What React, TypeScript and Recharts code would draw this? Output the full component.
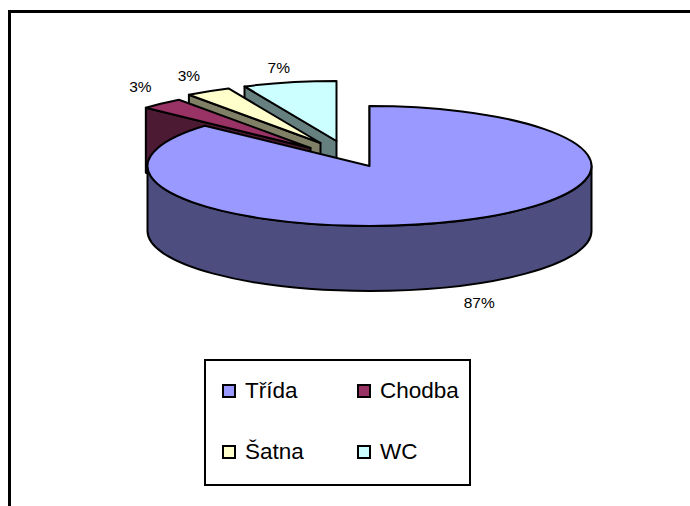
import React from "react"
import { Cell, Legend, Pie, PieChart } from "recharts"

const categories = ["Třída", "Chodba", "Šatna", "WC"]
const shares = [86.7, 3.2, 3.3, 6.8]

const topColors = ["#9999FF", "#993366", "#FFFFCC", "#CCFFFF"]
const sideColors = ["#4D4D80", "#4D1A33", "#808066", "#668080"]
// how far each slice is pulled out of the pie, in px
const pullX = [0, -59, -49, -33]
const pullY = [0, -18, -23, -25]
// small nudges so the percent labels land where they do in the original
const labelNudgeX = [5, 3, -1, -3]
const labelNudgeY = [1, -1, 0, 1]

const SQUASH = 0.27
const DEPTH = 65
const RAD = Math.PI / 180
const OUTLINE = "#000"

// drawn back to front, so the big slice ends up on top of the small ones
const tableData = categories
    .map((name, i) => ({ name, value: shares[i] }))
    .reverse()

const rim = (cx: number, cy: number, rx: number, deg: number) => ({
    x: cx + rx * Math.cos(deg * RAD),
    y: cy - rx * SQUASH * Math.sin(deg * RAD),
})

function Slice3D(props: any) {
    const i = categories.indexOf(props.name)
    const cx = props.cx + pullX[i]
    const cy = props.cy + pullY[i]
    const rx = props.outerRadius
    const ry = rx * SQUASH
    const { startAngle, endAngle } = props

    const a = rim(cx, cy, rx, startAngle)
    const b = rim(cx, cy, rx, endAngle)
    const large = endAngle - startAngle > 180 ? 1 : 0

    // cut face on the side that looks at the viewer
    const face = `M${b.x},${b.y} L${cx},${cy} L${cx},${cy + DEPTH} L${b.x},${b.y + DEPTH} Z`

    // outer wall only exists along the front half of the rim
    const wallFrom = Math.max(startAngle, 180)
    const wallTo = Math.min(endAngle, 360)
    let wall = ""
    if (wallTo > wallFrom) {
        const p = rim(cx, cy, rx, wallFrom)
        const q = rim(cx, cy, rx, wallTo)
        wall =
            `M${p.x},${p.y} A${rx},${ry} 0 0 0 ${q.x},${q.y} ` +
            `L${q.x},${q.y + DEPTH} A${rx},${ry} 0 0 1 ${p.x},${p.y + DEPTH} Z`
    }

    const top = `M${cx},${cy} L${a.x},${a.y} A${rx},${ry} 0 ${large} 0 ${b.x},${b.y} Z`

    return (
        <g stroke={OUTLINE} strokeWidth={2} strokeLinejoin="round">
            <path d={face} fill={sideColors[i]} />
            {wall && <path d={wall} fill={sideColors[i]} />}
            <path d={top} fill={topColors[i]} />
        </g>
    )
}

function SliceLabel(props: any) {
    const i = categories.indexOf(props.name)
    const sin = Math.sin(props.midAngle * RAD)
    const cos = Math.cos(props.midAngle * RAD)
    const p = rim(props.cx + pullX[i], props.cy + pullY[i], props.outerRadius, props.midAngle)
    const x = p.x + cos * 36 + labelNudgeX[i]
    const y = (sin < 0 ? p.y + DEPTH + 16 : p.y - 16) + labelNudgeY[i]
    return (
        <text x={x} y={y} textAnchor="middle" dominantBaseline="central" fontSize={15.5} fill="#000">
            {`${Math.round(props.percent * 100)}%`}
        </text>
    )
}

function LegendBox({ payload }: any) {
    const items = [...(payload ?? [])].sort(
        (p: any, q: any) => categories.indexOf(p.value) - categories.indexOf(q.value),
    )
    return (
        <div
            style={{
                boxSizing: "border-box",
                width: 267,
                height: 127,
                border: "2px solid #000",
                background: "#fff",
                position: "relative",
            }}
        >
            {items.map((item: any, n: number) => {
                const i = categories.indexOf(item.value)
                return (
                    <div
                        key={item.value}
                        style={{
                            position: "absolute",
                            left: n % 2 === 0 ? 16 : 151,
                            top: n < 2 ? 22 : 83,
                            display: "flex",
                            alignItems: "center",
                            height: 16,
                            fontSize: 22.5,
                            color: "#000",
                            whiteSpace: "nowrap",
                        }}
                    >
                        <span
                            style={{
                                boxSizing: "border-box",
                                width: 14,
                                height: 14,
                                marginRight: 9,
                                border: "2px solid #000",
                                background: topColors[i],
                            }}
                        />
                        {item.value}
                    </div>
                )
            })}
        </div>
    )
}

export default function App() {
    return (
        <div
            style={{
                position: "absolute",
                left: 0,
                top: 0,
                width: 690,
                height: 506,
                overflow: "hidden",
                background: "#fff",
                fontFamily: "'Liberation Sans', Arial, sans-serif",
            }}
        >
            <div
                style={{
                    position: "absolute",
                    left: 8,
                    top: 10,
                    width: 720,
                    height: 540,
                    border: "3px solid #000",
                }}
            />
            <PieChart
                width={690}
                height={506}
                margin={{ top: 0, right: 0, bottom: 0, left: 0 }}
                style={{ position: "absolute", left: 0, top: 0 }}
            >
                <Pie
                    data={tableData}
                    dataKey="value"
                    nameKey="name"
                    cx={369.5}
                    cy={166}
                    innerRadius={0}
                    outerRadius={222}
                    startAngle={90}
                    endAngle={450}
                    paddingAngle={0}
                    isAnimationActive={false}
                    shape={Slice3D}
                    label={SliceLabel}
                    labelLine={false}
                >
                    {tableData.map((d) => (
                        <Cell key={d.name} fill={topColors[categories.indexOf(d.name)]} />
                    ))}
                </Pie>
                <Legend
                    content={LegendBox}
                    wrapperStyle={{ position: "absolute", left: 204, top: 359, width: 267, height: 127 }}
                />
            </PieChart>
        </div>
    )
}
